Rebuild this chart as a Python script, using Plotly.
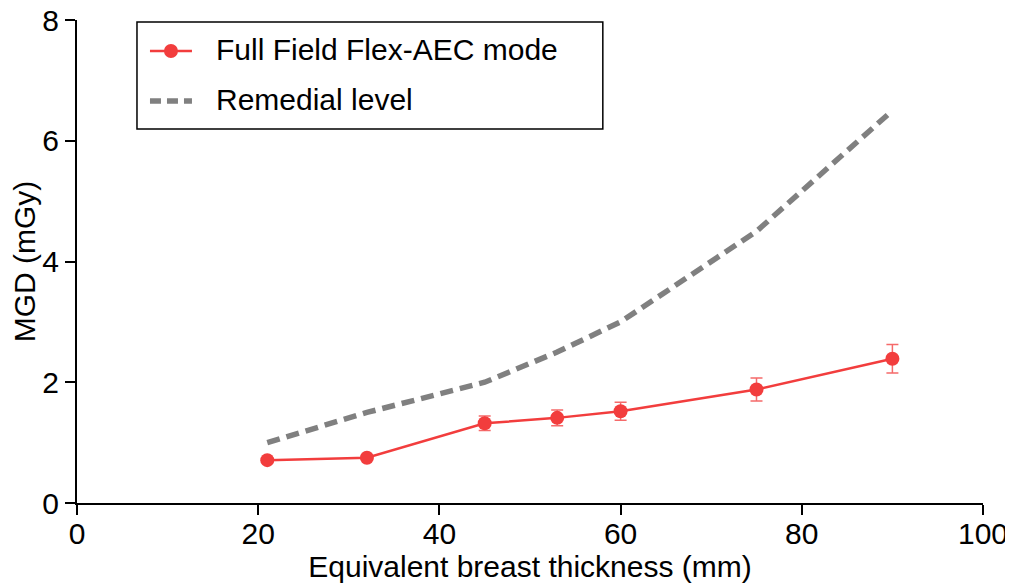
import plotly.graph_objects as go

thickness = [21, 32, 45, 53, 60, 75, 90]
mgd_flex = [0.71, 0.75, 1.32, 1.41, 1.52, 1.88, 2.39]
mgd_err = [0.03, 0.03, 0.12, 0.13, 0.15, 0.19, 0.235]
remedial = [1.0, 1.5, 2.0, 2.5, 3.0, 4.5, 6.5]

x_ticks = [0, 20, 40, 60, 80, 100]
y_ticks = [0, 2, 4, 6, 8]

RED = "#F23D3D"
GRAY = "#808080"
FONT = "Liberation Sans, Arial, sans-serif"

OFF = 8  # page body margin
W, H = 1013 - OFF, 588 - OFF
L, T = 77 - OFF, 20 - OFF
R = W - (983.3 - OFF)
B = H - (502.7 - OFF)
PW, PH = W - L - R, H - T - B


def px(x):
    return (x - OFF - L) / PW


def py(y):
    return (H - B - (y - OFF)) / PH


fig = go.Figure()
fig.add_trace(go.Scatter(
    x=thickness, y=remedial, mode="lines", name="Remedial level",
    line=dict(color=GRAY, width=5.5, dash="13px,7px"), showlegend=False))
fig.add_trace(go.Scatter(
    x=thickness, y=mgd_flex, mode="lines+markers", name="Full Field Flex-AEC mode",
    line=dict(color=RED, width=2.5),
    marker=dict(color=RED, size=14),
    error_y=dict(type="data", array=mgd_err, color="#F56A6A", thickness=1.5, width=6),
    showlegend=False))

# manual legend
shapes = [
    dict(type="rect", xref="paper", yref="paper", x0=px(137), x1=px(603),
         y0=py(129), y1=py(22), line=dict(color="black", width=1.5),
         fillcolor="rgba(0,0,0,0)", layer="above"),
    dict(type="line", xref="paper", yref="paper", x0=px(150), x1=px(192),
         y0=py(51), y1=py(51), line=dict(color=RED, width=2.5)),
    dict(type="circle", xref="paper", yref="paper", x0=px(164), x1=px(178),
         y0=py(58), y1=py(44), line=dict(color=RED, width=0),
         fillcolor=RED),
    dict(type="line", xref="paper", yref="paper", x0=px(150), x1=px(192),
         y0=py(101), y1=py(101),
         line=dict(color=GRAY, width=5.5, dash="11px,6px")),
]
annotations = [
    dict(text="Full Field Flex-AEC mode", xref="paper", yref="paper",
         x=px(214), y=py(49), xanchor="left", yanchor="middle",
         showarrow=False, font=dict(family=FONT, size=30, color="black")),
    dict(text="Remedial level", xref="paper", yref="paper",
         x=px(214), y=py(99), xanchor="left", yanchor="middle",
         showarrow=False, font=dict(family=FONT, size=30, color="black")),
]

fig.update_layout(
    width=W, height=H,
    margin=dict(l=L, r=R, t=T, b=B),
    paper_bgcolor="white", plot_bgcolor="white",
    font=dict(family=FONT, size=30, color="black"),
    shapes=shapes, annotations=annotations,
    xaxis=dict(range=[0, 100], tickvals=x_ticks, ticks="outside", ticklen=10,
               tickwidth=2, tickcolor="black", showline=True, linecolor="black",
               linewidth=2, showgrid=False, zeroline=False, automargin=False,
               tickfont=dict(family=FONT, size=30), ticklabelstandoff=-7,
               ticklabeloverflow="allow",
               title=dict(text="Equivalent breast thickness (mm)",
                          font=dict(family=FONT, size=30), standoff=0)),
    yaxis=dict(range=[0, 8], tickvals=y_ticks, ticks="outside", ticklen=10,
               tickwidth=2, tickcolor="black", showline=True, linecolor="black",
               linewidth=2, showgrid=False, zeroline=False, automargin=False,
               tickfont=dict(family=FONT, size=30), ticklabeloverflow="allow",
               title=dict(text="MGD (mGy)", font=dict(family=FONT, size=30), standoff=2)),
)

fig.write_html("out.html")
